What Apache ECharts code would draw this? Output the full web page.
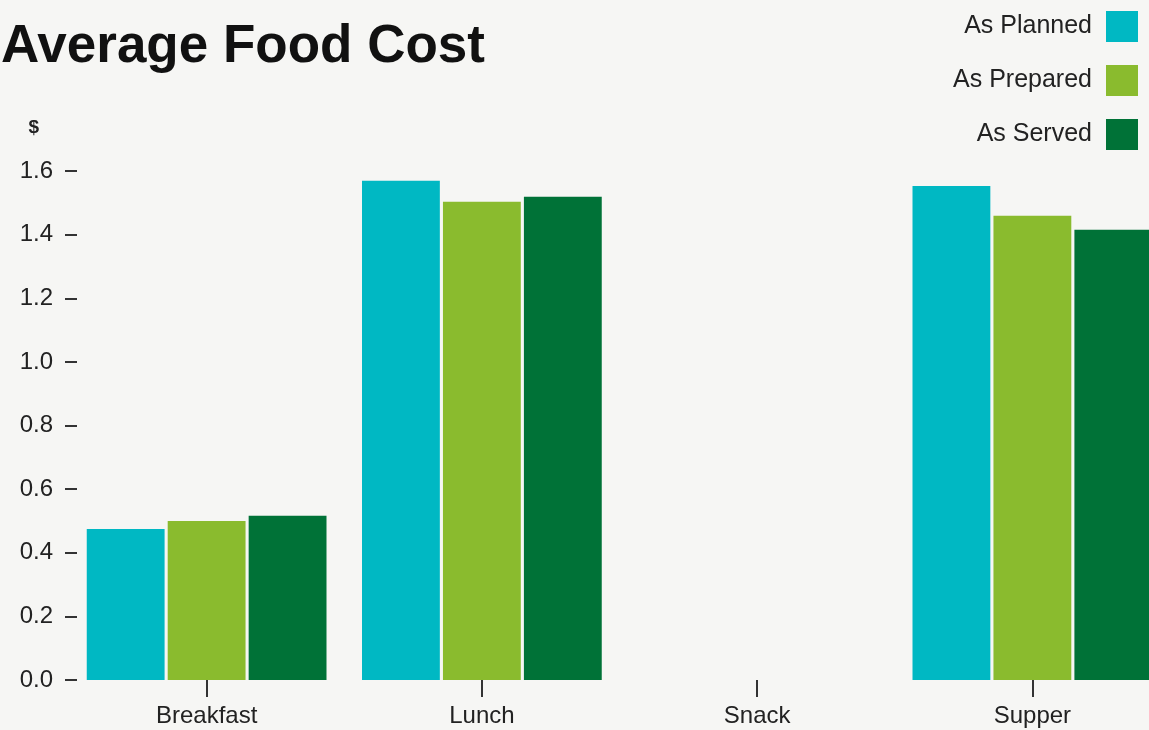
<!DOCTYPE html>
<html>
<head>
<meta charset="utf-8">
<title>Average Food Cost</title>
<script src="https://cdn.jsdelivr.net/npm/echarts@6/dist/echarts.min.js"></script>
<style>
html, body {margin:0; padding:0; background:#f6f6f4;}
#food_cost_chart {width:1149px; height:730px;}
</style>
</head>
<body>
<div id="food_cost_chart"></div>
<script type="text/javascript">
	// meals on the x axis
	var meals = ['Breakfast', 'Lunch', 'Snack', 'Supper'];
	// average cost per meal, in $
	var asPlanned  = [0.475, 1.569, 0, 1.553];
	var asPrepared = [0.500, 1.503, 0, 1.459];
	var asServed   = [0.516, 1.519, 0, 1.415];
	var yTicks = ['0.0', '0.2', '0.4', '0.6', '0.8', '1.0', '1.2', '1.4', '1.6'];

	var dom = document.getElementById("food_cost_chart");
	var myChart = echarts.init(dom);
	var option = null;
	option = {
		backgroundColor: '#f6f6f4',
		animation: false,
		color: ['#00b8c3', '#8abb2e', '#007237'],
		title: {
			text: 'Average Food Cost',
			left: -4,
			top: 16,
			textStyle: {
				fontFamily: 'Liberation Sans',
				fontWeight: 'bold',
				fontSize: 53,
				color: '#111'
			}
		},
		legend: {
			orient: 'vertical',
			right: 6,
			top: 6,
			align: 'right',
			icon: 'rect',
			itemWidth: 32,
			itemHeight: 31,
			itemGap: 23,
			textStyle: {
				fontFamily: 'Liberation Sans',
				fontSize: 25,
				color: '#222',
				padding: [0, 9, 0, 0]
			}
		},
		grid: {
			left: 69,
			top: 171,
			bottom: 50,
			width: 1101,
			outerBoundsMode: 'none'
		},
		xAxis: {
			type: 'category',
			data: meals,
			axisLine: {show: false},
			axisTick: {
				show: true,
				alignWithLabel: true,
				length: 17,
				lineStyle: {color: '#333', width: 2}
			},
			axisLabel: {
				margin: 24,
				fontFamily: 'Liberation Sans',
				fontSize: 24,
				color: '#222'
			}
		},
		yAxis: {
			type: 'value',
			min: 0,
			max: 1.6,
			interval: 0.2,
			offset: -8,
			name: '$',
			nameLocation: 'end',
			nameGap: 34,
			nameTextStyle: {
				fontFamily: 'Liberation Sans',
				fontWeight: 'bold',
				fontSize: 19,
				color: '#222',
				align: 'right',
				padding: [0, 38, 0, 0]
			},
			splitLine: {show: false},
			axisLine: {show: false},
			axisTick: {
				show: true,
				length: 12,
				lineStyle: {color: '#333', width: 2}
			},
			axisLabel: {
				margin: 24,
				fontFamily: 'Liberation Sans',
				fontSize: 24,
				color: '#222',
				formatter: function (v) {
					return yTicks[Math.round(v / 0.2)];
				}
			}
		},
		series: [
			{name: 'As Planned', type: 'bar', data: asPlanned, barGap: '4%', barCategoryGap: '12.9%'},
			{name: 'As Prepared', type: 'bar', data: asPrepared, barGap: '4%', barCategoryGap: '12.9%'},
			{name: 'As Served', type: 'bar', data: asServed, barGap: '4%', barCategoryGap: '12.9%'}
		]
	};
	if (option && typeof option === "object") {
		myChart.setOption(option, true);
	}
</script>
</body>
</html>
